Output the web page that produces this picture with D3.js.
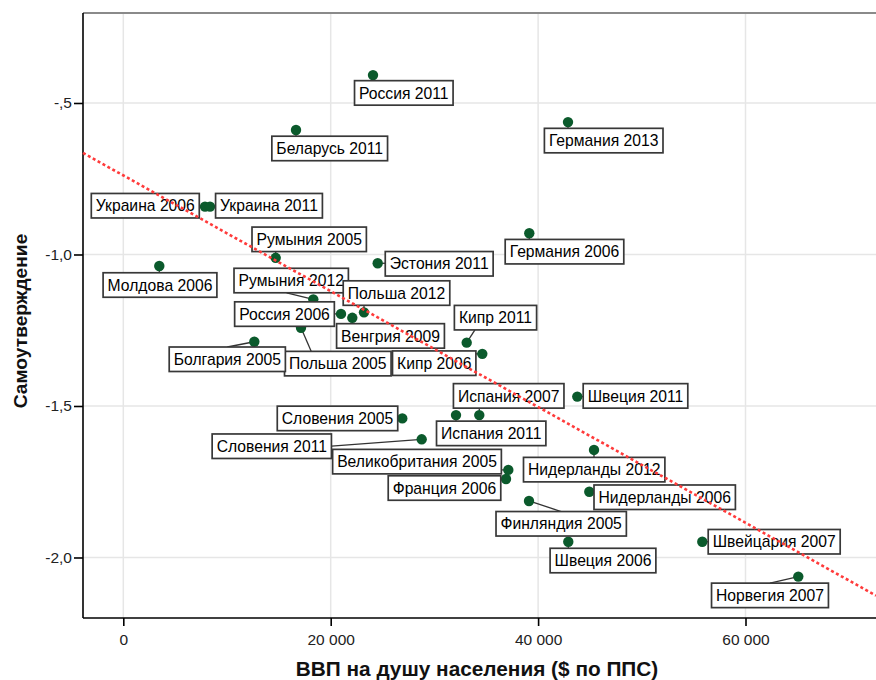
<!DOCTYPE html>
<html><head><meta charset="utf-8">
<script src="https://cdn.jsdelivr.net/npm/d3@7/dist/d3.min.js"></script>
<style>
html,body{margin:0;padding:0;background:#fff;}
svg{display:block;font-family:"Liberation Sans",Arial,sans-serif;}
</style></head>
<body><svg id="chart" width="876" height="680"></svg>
<script>
// ---- data ----
const names = ["Россия 2011","Германия 2013","Беларусь 2011","Украина 2006","Украина 2011","Германия 2006",
 "Румыния 2005","Молдова 2006","Эстония 2011","Румыния 2012","Россия 2006","Венгрия 2009","Польша 2012",
 "Польша 2005","Болгария 2005","Кипр 2011","Кипр 2006","Швеция 2011","Словения 2005","Испания 2011",
 "Испания 2007","Словения 2011","Нидерланды 2012","Великобритания 2005","Франция 2006","Нидерланды 2006",
 "Финляндия 2005","Швеция 2006","Швейцария 2007","Норвегия 2007"];
const gdp = [24079,42883,16654,7878,8360,39150,14696,3471,24532,18322,20993,22083,23211,17136,12632,33114,
 34619,43779,26904,32083,34329,28774,45390,37126,36904,44937,39122,42911,55833,65090];
const selfAssertion = [-0.408,-0.563,-0.589,-0.842,-0.842,-0.930,-1.011,-1.038,-1.029,-1.148,-1.196,-1.209,
 -1.191,-1.242,-1.288,-1.291,-1.328,-1.469,-1.541,-1.530,-1.530,-1.610,-1.645,-1.711,-1.741,-1.783,-1.8135,
 -1.948,-1.948,-2.063];
const xTicks = [0,20000,40000,60000];
const xTickLabels = ["0","20 000","40 000","60 000"];
const yTicks = [-0.5,-1.0,-1.5,-2.0];
const yTickLabels = ["-,5","-1,0","-1,5","-2,0"];
const fitIntercept = -0.739;
const fitSlope = -1.9106e-5;
const xTitle = "ВВП на душу населения ($ по ППС)";
const yTitle = "Самоутверждение";
// label placement (offset of label centre from its point, px)
const labelDx = [30.8,35.7,33.7,-59.7,59,35.2,33.5,0.7,61.5,-22.1,-56.5,38.2,32.5,36.8,-27,28.8,-48.1,58.2,
 -64.8,35.2,29.4,-149.9,0.2,-91.3,-61.5,75.4,32.2,34.7,71.9,-28.3];
const labelDy = [17.8,18.5,18.5,-0.9,-0.9,18.4,-18.5,19,0.5,-18.8,0.2,18.1,-19.3,35.8,17.5,-25,9.3,-0.7,
 0,18.3,-19.2,6.9,19.7,-8.3,9,5.5,22.8,18.8,0,18.8];
// leader anchor along the facing edge (fraction from centre); null = nearest point
const leaderFrac = [null,null,null,null,null,null,null,null,null,-0.04,null,null,null,-0.25,0,-0.25,null,null,
 null,null,null,0,null,null,null,null,0,null,null,0];

// ---- layout ----
const L = 83, R = 876, T = 13, B = 618;
const svg = d3.select("#chart");
const x = d3.scaleLinear().domain([-3886, 72584]).range([L, R]);
const y = d3.scaleLinear().domain([-2.1997, -0.2030]).range([B, T]);

// grid
const g = svg.append("g");
g.selectAll(".gx").data(xTicks).join("line")
  .attr("x1", d => x(d)).attr("x2", d => x(d)).attr("y1", T).attr("y2", B)
  .attr("stroke", "#e6e6e6").attr("stroke-width", 1.5);
g.selectAll(".gy").data(yTicks).join("line")
  .attr("x1", L).attr("x2", R).attr("y1", d => y(d)).attr("y2", d => y(d))
  .attr("stroke", "#e6e6e6").attr("stroke-width", 1.5);

// top frame line
svg.append("line").attr("x1", L).attr("x2", R).attr("y1", T).attr("y2", T)
  .attr("stroke", "#8a8a8a").attr("stroke-width", 2);

// axes
const xAxis = d3.axisBottom(x).tickValues(xTicks).tickFormat((d,i) => xTickLabels[i]).tickSize(8).tickSizeOuter(0);
const yAxis = d3.axisLeft(y).tickValues(yTicks).tickFormat((d,i) => yTickLabels[i]).tickSize(9).tickSizeOuter(0);
const gx = svg.append("g").attr("transform", `translate(0,${B})`).call(xAxis);
const gy = svg.append("g").attr("transform", `translate(${L},0)`).call(yAxis);
[gx, gy].forEach(a => {
  a.select(".domain").attr("stroke", "#000").attr("stroke-width", 1.6);
  a.selectAll(".tick line").attr("stroke", "#000").attr("stroke-width", 1.6);
  a.selectAll(".tick text").attr("fill", "#222").style("font-size", "15.5px")
    .style("font-family", '"Liberation Sans",Arial,sans-serif');
});
gx.selectAll(".tick text").attr("dy", "1.05em");
gy.selectAll(".tick text").attr("x", -11);
gx.select(".domain").attr("d", `M${L},0H${R}`);
gy.select(".domain").attr("d", `M0,${T}V${B}`);

// titles
svg.append("text").attr("x", 477).attr("y", 676).attr("text-anchor", "middle")
  .style("font-size", "20.8px").style("font-weight", "bold").attr("fill", "#111").text(xTitle);
svg.append("text").attr("transform", "translate(27,321) rotate(-90)").attr("text-anchor", "middle")
  .style("font-size", "19.2px").style("font-weight", "bold").attr("fill", "#111").text(yTitle);

// points data
const pts = names.map((n, i) => ({name: n, px: x(gdp[i]), py: y(selfAssertion[i]),
  cx: x(gdp[i]) + labelDx[i], cy: y(selfAssertion[i]) + labelDy[i], frac: leaderFrac[i]}));

const leaderG = svg.append("g");
const dotG = svg.append("g");
const labG = svg.append("g");

// labels (measure first)
const labels = labG.selectAll("g").data(pts).join("g");
labels.append("rect");
labels.append("text").attr("text-anchor", "middle").attr("dy", "0.36em")
  .style("font-size", "15.7px").attr("fill", "#000")
  .attr("x", d => d.cx).attr("y", d => d.cy).text(d => d.name);
labels.each(function(d) {
  const w = d3.select(this).select("text").node().getComputedTextLength() + 9;
  const h = 24.5;
  d.w = w; d.h = h;
  d3.select(this).select("rect")
    .attr("x", d.cx - w/2).attr("y", d.cy - h/2).attr("width", w).attr("height", h)
    .attr("fill", "#fff").attr("stroke", "#383838").attr("stroke-width", 1.7);
  const gapX = Math.max(0, Math.abs(d.px - d.cx) - w/2);
  const gapY = Math.max(0, Math.abs(d.py - d.cy) - h/2);
  let ax, ay;
  if (gapY >= gapX) {
    ay = d.py < d.cy ? d.cy - h/2 : d.cy + h/2;
    ax = d.frac === null ? Math.max(d.cx - w/2, Math.min(d.cx + w/2, d.px)) : d.cx + d.frac * w;
  } else {
    ax = d.px < d.cx ? d.cx - w/2 : d.cx + w/2;
    ay = d.frac === null ? Math.max(d.cy - h/2, Math.min(d.cy + h/2, d.py)) : d.cy + d.frac * h;
  }
  d.ax = ax; d.ay = ay;
});

leaderG.selectAll("line").data(pts).join("line")
  .attr("x1", d => d.px).attr("y1", d => d.py).attr("x2", d => d.ax).attr("y2", d => d.ay)
  .attr("stroke", "#333").attr("stroke-width", 1.3);

dotG.selectAll("circle").data(pts).join("circle")
  .attr("cx", d => d.px).attr("cy", d => d.py).attr("r", 5.2)
  .attr("fill", "#0b5a2c");

// fit line (on top)
const [x0, x1] = x.domain();
svg.append("line")
  .attr("x1", x(x0)).attr("y1", y(fitIntercept + fitSlope * x0))
  .attr("x2", x(x1)).attr("y2", y(fitIntercept + fitSlope * x1))
  .attr("stroke", "#ff3b3b").attr("stroke-width", 2.6).attr("stroke-dasharray", "3,2.6");
</script></body></html>
